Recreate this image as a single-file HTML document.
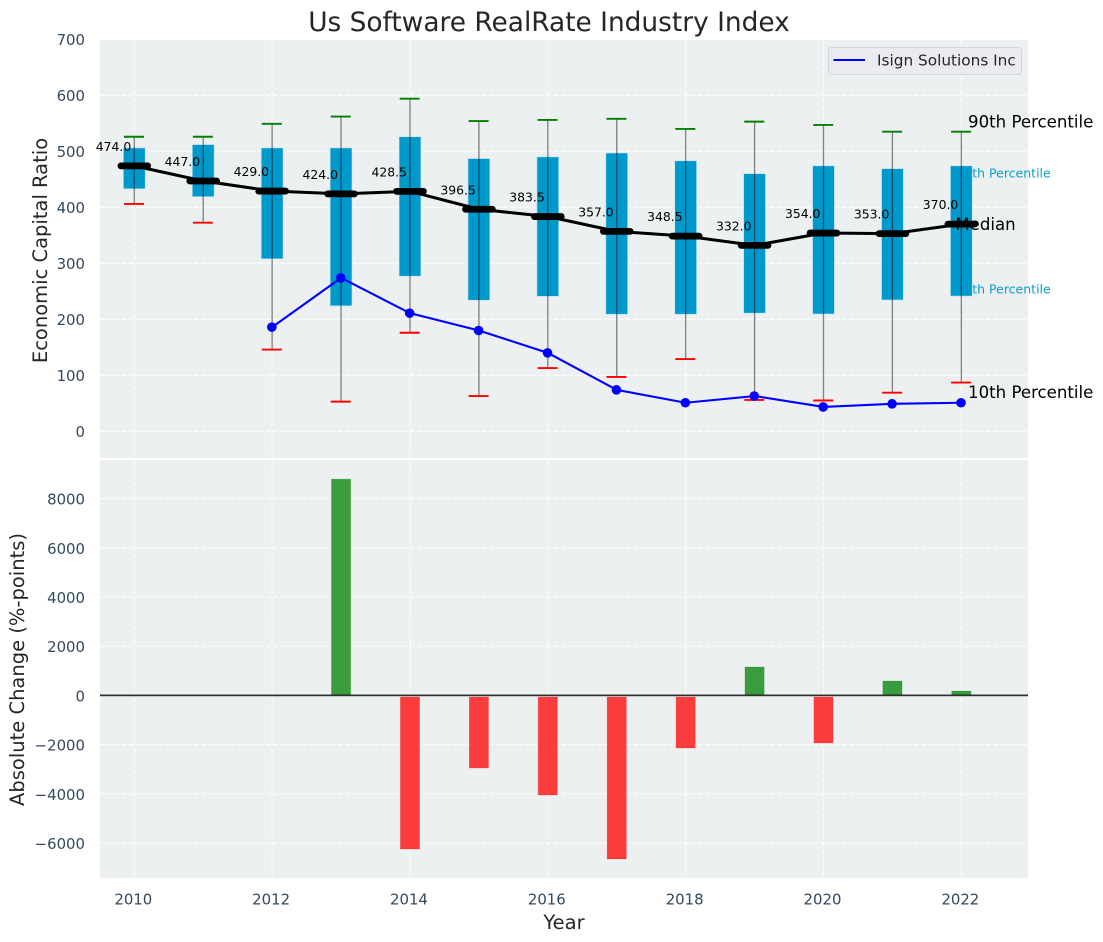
<!DOCTYPE html>
<html>
<head>
<meta charset="utf-8">
<title>Us Software RealRate Industry Index</title>
<style>
html,body{margin:0;padding:0;background:#fff;}
svg{display:block;font-family:"DejaVu Sans","Liberation Sans",sans-serif;}
</style>
</head>
<body>
<svg id="chart" width="1103" height="942" viewBox="0 0 1103 942" xmlns="http://www.w3.org/2000/svg">
<text x="549" y="31" font-size="26.4" fill="#262626" text-anchor="middle">Us Software RealRate Industry Index</text>
<text transform="translate(47,250.5) rotate(-90)" font-size="19.5" fill="#262626" text-anchor="middle">Economic Capital Ratio</text>
<text transform="translate(24,669.5) rotate(-90)" font-size="19.5" fill="#262626" text-anchor="middle">Absolute Change (%-points)</text>
<text x="564" y="929" font-size="19.5" fill="#262626" text-anchor="middle">Year</text>
</svg>
<script>
const years = [2010,2011,2012,2013,2014,2015,2016,2017,2018,2019,2020,2021,2022];
const p90 = [526,526,549,562,594,554,556,558,540,553,547,535,535];
const p75 = [506,512,506,506,526,487,490,497,483,460,474,469,474];
const medians = [474,447,429,424,428.5,396.5,383.5,357,348.5,332,354,353,370];
const p25 = [433,419,308,224,277,234,241,209,209,211,209.5,234.5,241.5];
const p10 = [406,372.5,146,53,176,63,113,97,129,56,55,69,87];
const companyYears = [2012,2013,2014,2015,2016,2017,2018,2019,2020,2021,2022];
const companyValues = [186,274,211,180,140,74,51,63,43.5,49,51];
const changeYears = [2013,2014,2015,2016,2017,2018,2019,2020,2021,2022];
const changeValues = [8790,-6244,-2951,-4049,-6650,-2138,1154,-1935,585,179];
const xTicks = [2010,2012,2014,2016,2018,2020,2022];
const topYTicks = [0,100,200,300,400,500,600,700];
const bottomYTicks = [-6000,-4000,-2000,0,2000,4000,6000,8000];

const svg = document.getElementById('chart');
const NS = 'http://www.w3.org/2000/svg';
const AXIS_LEFT = 100, AXIS_RIGHT = 1028;
const TOP_PANEL_TOP = 40, TOP_PANEL_BOTTOM = 458;
const BOT_PANEL_TOP = 460, BOT_PANEL_BOTTOM = 878;

function xScale(year){ return 134.3 + (year - 2010) * 68.92; }
function yTop(v){ return 431.3 - v * 0.56; }
function yBottom(v){ return 695.4 - v * 0.0246; }

function make(tag, attrs, text){
  const el = document.createElementNS(NS, tag);
  for (const k in attrs) el.setAttribute(k, attrs[k]);
  if (text !== undefined) el.textContent = text;
  svg.appendChild(el);
  return el;
}
function tickText(v){ return String(v).replace('-', '\u2212'); }

let el;
// panels
el = make('rect', {x:AXIS_LEFT, y:TOP_PANEL_TOP, width:AXIS_RIGHT-AXIS_LEFT, height:TOP_PANEL_BOTTOM-TOP_PANEL_TOP, fill:'#ecf0f1'});


el = make('rect', {x:AXIS_LEFT, y:BOT_PANEL_TOP, width:AXIS_RIGHT-AXIS_LEFT, height:BOT_PANEL_BOTTOM-BOT_PANEL_TOP, fill:'#ecf0f1'});



// grid and ticks
xTicks.forEach(function(t){
  const px = xScale(t);
  let g = make('line', {x1:px, x2:px, y1:TOP_PANEL_TOP, y2:TOP_PANEL_BOTTOM, stroke:'#fff', 'stroke-width':1, 'stroke-dasharray':'5 2.2'});
  
  
  g = make('line', {x1:px, x2:px, y1:BOT_PANEL_TOP, y2:BOT_PANEL_BOTTOM, stroke:'#fff', 'stroke-width':1, 'stroke-dasharray':'5 2.2'});
  
  
  const label = make('text', {x:px-1, y:904.5, 'font-size':14.9, fill:'#34495e', 'text-anchor':'middle'}, tickText(t));
  
  
});
topYTicks.forEach(function(t){
  const py = yTop(t);
  const g = make('line', {x1:AXIS_LEFT, x2:AXIS_RIGHT, y1:py, y2:py, stroke:'#fff', 'stroke-width':1, 'stroke-dasharray':'5 2.2'});
  
  
  const label = make('text', {x:85, y:py+5.8, 'font-size':14.9, fill:'#34495e', 'text-anchor':'end'}, tickText(t));
  
  
});
bottomYTicks.forEach(function(t){
  const py = yBottom(t);
  const g = make('line', {x1:AXIS_LEFT, x2:AXIS_RIGHT, y1:py, y2:py, stroke:'#fff', 'stroke-width':1, 'stroke-dasharray':'5 2.2'});
  
  
  const label = make('text', {x:85, y:py+6, 'font-size':14.9, fill:'#34495e', 'text-anchor':'end'}, tickText(t));
  
  
});

// percentile annotations sitting beneath the boxes
const lastIdx = years.length - 1;
const lastX = xScale(years[lastIdx]);
el = make('text', {x:lastX-5, y:yTop(p75[lastIdx])+11.5, 'font-size':12.5, fill:'#0099cc', opacity:0.95}, '75th Percentile');


el = make('text', {x:lastX-5, y:yTop(p25[lastIdx])-2.8, 'font-size':12.5, fill:'#0099cc', opacity:0.95}, '25th Percentile');



// boxes
years.forEach(function(y, i){
  const px = xScale(y);
  const box = make('rect', {x:px-10.9, y:yTop(p75[i]), width:21.8, height:yTop(p25[i])-yTop(p75[i]), fill:'#0099cc', stroke:'#bfe4f0', 'stroke-width':0.6});
  
  
});
// whiskers and caps
years.forEach(function(y, i){
  const px = xScale(y);
  const w = make('line', {x1:px, x2:px, y1:yTop(p90[i]), y2:yTop(p10[i]), stroke:'#000', 'stroke-opacity':0.48, 'stroke-width':1.3});
  
  
  const capHi = make('line', {x1:px-10.3, x2:px+9.7, y1:yTop(p90[i]), y2:yTop(p90[i]), stroke:'#008000', 'stroke-width':1.9});
  
  
  const capLo = make('line', {x1:px-10.3, x2:px+9.7, y1:yTop(p10[i]), y2:yTop(p10[i]), stroke:'#ff0000', 'stroke-width':1.9});
  
  
});

// median annotation text
el = make('text', {x:lastX-6, y:yTop(medians[lastIdx])+6, 'font-size':16.6, fill:'#000'}, 'Median');



// median line
const medianPts = years.map(function(y, i){ return xScale(y) + ',' + yTop(medians[i]); }).join(' ');
el = make('polyline', {points:medianPts, fill:'none', stroke:'#000', 'stroke-width':3});


years.forEach(function(y, i){
  const px = xScale(y), py = yTop(medians[i]);
  const m = make('line', {x1:px-13.4, x2:px+13.4, y1:py, y2:py, stroke:'#000', 'stroke-width':6.8, 'stroke-linecap':'round'});
  
  
  const t = make('text', {x:px-20.8, y:py-15, 'font-size':12.4, fill:'#000', 'text-anchor':'middle'}, medians[i].toFixed(1));
  
  
});

// company line
const companyPts = companyYears.map(function(y, i){ return xScale(y) + ',' + yTop(companyValues[i]); }).join(' ');
el = make('polyline', {points:companyPts, fill:'none', stroke:'#0000ff', 'stroke-width':2.1});


companyYears.forEach(function(y, i){
  const p = make('circle', {cx:xScale(y)-0.3, cy:yTop(companyValues[i]), r:4.8, fill:'#0000ff'});
  
  
});

// outer annotations
el = make('text', {x:lastX+6.7, y:yTop(p90[lastIdx])-4, 'font-size':16.6, fill:'#000'}, '90th Percentile');


el = make('text', {x:lastX+6.7, y:yTop(p10[lastIdx])+15.5, 'font-size':16.6, fill:'#000'}, '10th Percentile');



// legend
el = make('rect', {x:828.5, y:47.5, width:193, height:27, rx:3, fill:'#e9ebf0', stroke:'#d3d6da', 'stroke-width':1});


el = make('line', {x1:833.5, x2:865, y1:60, y2:60, stroke:'#0000ff', 'stroke-width':2});


el = make('text', {x:877, y:65.5, 'font-size':15.3, fill:'#262626'}, 'Isign Solutions Inc');



// change bars
changeYears.forEach(function(y, i){
  const v = changeValues[i];
  const px = xScale(y);
  const y0 = yBottom(0), y1 = yBottom(v);
  const c = v >= 0 ? '#008000' : '#ff0000';
  const b = make('rect', {x:px-9.6, y:Math.min(y0,y1), width:19.2, height:Math.abs(y1-y0), fill:c, 'fill-opacity':0.75, stroke:c, 'stroke-opacity':0.25, 'stroke-width':0.8});
  
  
});
el = make('line', {x1:AXIS_LEFT, x2:AXIS_RIGHT, y1:yBottom(0)+0.6, y2:yBottom(0)+0.6, stroke:'#bcc0c2', 'stroke-width':1.8});


el = make('line', {x1:AXIS_LEFT, x2:AXIS_RIGHT, y1:yBottom(0)-0.2, y2:yBottom(0)-0.2, stroke:'#000', 'stroke-width':1.2});


</script>
</body>
</html>
